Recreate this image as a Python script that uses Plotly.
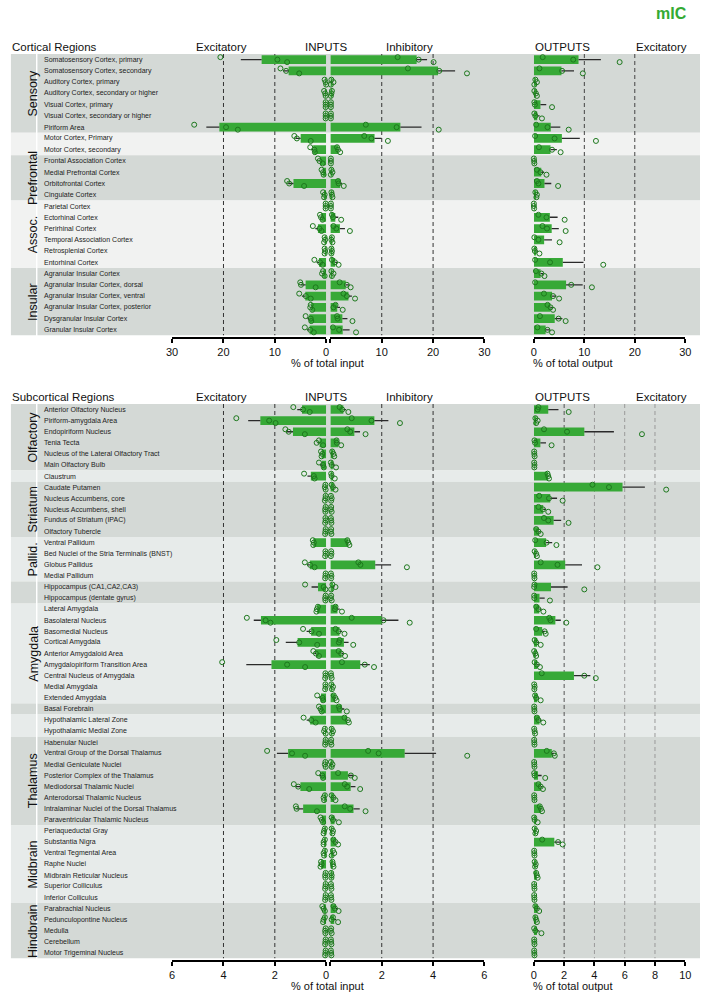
import numpy as np
import plotly.graph_objects as go

# ---------------- DATA ----------------
cortical_regions = [
    "Somatosensory Cortex, primary", "Somatosensory Cortex, secondary",
    "Auditory Cortex, primary", "Auditory Cortex, secondary or higher",
    "Visual Cortex, primary", "Visual Cortex, secondary or higher", "Piriform Area",
    "Motor Cortex, Primary", "Motor Cortex, secondary",
    "Frontal Association Cortex", "Medial Prefrontal Cortex", "Orbitofrontal Cortex",
    "Cingulate Cortex",
    "Parietal Cortex", "Ectorhinal Cortex", "Perirhinal Cortex",
    "Temporal Association Cortex", "Retrosplenial Cortex", "Entorhinal Cortex",
    "Agranular Insular Cortex", "Agranular Insular Cortex, dorsal",
    "Agranular Insular Cortex, ventral", "Agranular Insular Cortex, posterior",
    "Dysgranular Insular Cortex", "Granular Insular Cortex"]
cortical_groups = ["Sensory", "", "Prefrontal", "Assoc.", "Insular"]
cortical_group_sizes = [7, 2, 4, 6, 6]

# individual animals (% of total input / output)
cortical_exc = [
    [20.6, 9.5, 7.6], [8.9, 7.8, 5.25], [0.3, 0.1, 0.0], [0.4, 0.2, 0.1],
    [0.1, 0.1, 0.1], [0.1, 0.1, 0.1], [25.7, 19.5, 17.2], [6.2, 5.7, 3.0],
    [3.1, 2.3, 2.2], [1.6, 1.3, 0.7], [0.9, 0.6, 0.5], [7.6, 7.2, 4.3],
    [0.6, 0.3, 0.4], [0.1, 0.1, 0.1], [1.2, 1.0, 0.7], [2.6, 1.3, 0.9],
    [0.3, 0.2, 0.4], [0.3, 0.2, 0.3], [2.3, 1.2, 0.7], [0.6, 0.8, 0.3],
    [5.05, 4.9, 2.05], [5.25, 3.96, 3.0], [3.0, 3.1, 2.7], [4.0, 3.0, 2.9],
    [4.15, 3.1, 2.4]]
cortical_inh = [
    [13.1, 17.2, 20.1], [15.1, 21.2, 26.6], [0.2, 0.6, 0.1], [0.3, 0.2, 0.1],
    [0.1, 0.1, 0.1], [0.1, 0.1, 0.1], [6.9, 12.9, 21.1], [6.6, 8.0, 11.2],
    [1.3, 1.5, 1.9], [0.1, 0.1, 0.1], [0.2, 0.4, 0.1], [1.5, 1.6, 2.6],
    [0.2, 0.3, 0.4], [0.1, 0.1, 0.1], [0.3, 0.5, 2.1], [0.6, 1.15, 3.8],
    [0.3, 0.2, 0.4], [0.2, 0.3, 0.2], [0.3, 0.9, 1.6], [0.2, 0.6, 0.3],
    [1.8, 3.2, 3.95], [2.55, 3.2, 4.8], [1.0, 0.6, 2.4], [1.3, 1.4, 4.3],
    [0.5, 1.7, 5.0]]
cortical_out = [
    [1.75, 7.8, 17.0], [1.1, 5.6, 9.7], [0.3, 0.6, 0.1], [0.1, 0.4, 0.6],
    [0.1, 0.2, 3.6], [0.1, 0.3, 1.6], [0.45, 2.7, 6.9], [0.25, 4.1, 12.3],
    [1.0, 3.6, 5.3], [0.0, 0.05, 0.1], [0.6, 1.3, 2.5], [0.6, 0.9, 4.8],
    [0.3, 0.6, 0.5], [0.0, 0.0, 0.05], [0.9, 2.5, 6.1], [1.7, 2.6, 6.3],
    [0.1, 0.9, 5.1], [0.1, 0.2, 1.1], [0.25, 3.2, 13.75], [0.4, 1.5, 2.1],
    [0.25, 7.4, 11.5], [2.0, 3.8, 5.0], [2.7, 3.3, 3.8], [1.2, 4.9, 6.3],
    [0.7, 2.7, 3.6]]

sub_regions = [
    "Anterior Olfactory Nucleus", "Piriform-amygdala Area", "Endopiriform Nucleus",
    "Tenia Tecta", "Nucleus of the Lateral Olfactory Tract", "Main Olfactory Bulb",
    "Claustrum",
    "Caudate Putamen", "Nucleus Accumbens, core", "Nucleus Accumbens, shell",
    "Fundus of Striatum (IPAC)", "Olfactory Tubercle",
    "Ventral Pallidum", "Bed Nuclei of the Stria Terminalis (BNST)", "Globus Pallidus",
    "Medial Pallidum",
    "Hippocampus (CA1,CA2,CA3)", "Hippocampus (dentate gyrus)",
    "Lateral Amygdala", "Basolateral Nucleus", "Basomedial Nucleus", "Cortical Amygdala",
    "Anterior Amygdaloid Area", "Amygdalopiriform Transition Area",
    "Central Nucleus of Amygdala", "Medial Amygdala", "Extended Amygdala",
    "Basal Forebrain",
    "Hypothalamic Lateral Zone", "Hypothalamic Medial Zone",
    "Habenular Nuclei", "Ventral Group of the Dorsal Thalamus", "Medial Geniculate Nuclei",
    "Posterior Complex of the Thalamus", "Mediodorsal Thalamic Nuclei",
    "Anterodorsal Thalamic Nucleus", "Intralaminar Nuclei of the Dorsal Thalamus",
    "Paraventricular Thalamic Nucleus",
    "Periaqueductal Gray", "Substantia Nigra", "Ventral Tegmental Area", "Raphe Nuclei",
    "Midbrain Reticular Nucleus", "Superior Colliculus", "Inferior Colliculus",
    "Parabrachial Nucleus", "Pedunculopontine Nucleus", "Medulla", "Cerebellum",
    "Motor Trigeminal Nucleus"]
sub_groups = ["Olfactory", "", "Striatum", "Pallid.", "", "Amygdala", "", "",
              "Thalamus", "Midbrain", "Hindbrain"]
sub_group_sizes = [6, 1, 5, 4, 2, 9, 1, 2, 8, 7, 5]

sub_exc = [
    [1.28, 0.9, 0.64], [3.5, 2.22, 1.97], [1.59, 1.46, 0.83], [0.28, 0.37, 0.12],
    [0.2, 0.15, 0.18], [0.28, 0.12, 0.09], [0.86, 0.48, 0.45], [0.03, 0.05, 0.02],
    [0.02, 0.03, 0.05], [0.02, 0.04, 0.03], [0.03, 0.02, 0.04], [0.02, 0.03, 0.04],
    [0.52, 0.48, 0.5], [0.03, 0.02, 0.04], [0.83, 0.63, 0.45], [0.02, 0.03, 0.04],
    [0.82, 0.1, 0.03], [0.02, 0.04, 0.03], [0.32, 0.36, 0.38], [3.09, 2.36, 2.17],
    [0.9, 0.57, 0.28], [1.94, 1.05, 0.35], [0.5, 0.4, 0.28], [4.05, 1.52, 0.82],
    [0.03, 0.02, 0.04], [0.03, 0.02, 0.04], [0.35, 0.14, 0.12], [0.28, 0.22, 0.17],
    [0.88, 0.58, 0.41], [0.05, 0.08, 0.02], [0.02, 0.03, 0.04], [2.3, 1.33, 0.82],
    [0.03, 0.05, 0.02], [0.31, 0.15, 0.12], [1.26, 1.09, 0.66], [0.05, 0.1, 0.08],
    [1.18, 1.15, 0.36], [0.22, 0.17, 0.12], [0.05, 0.08, 0.1], [0.05, 0.1, 0.1],
    [0.05, 0.1, 0.08], [0.2, 0.18, 0.22], [0.02, 0.04, 0.03], [0.02, 0.03, 0.04],
    [0.02, 0.03, 0.04], [0.15, 0.1, 0.05], [0.05, 0.1, 0.12], [0.02, 0.04, 0.03],
    [0.02, 0.03, 0.04], [0.02, 0.03, 0.04]]
sub_inh = [
    [0.36, 0.46, 0.70], [0.83, 1.6, 2.71], [0.66, 0.77, 1.37], [0.24, 0.25, 0.42],
    [0.07, 0.12, 0.15], [0.02, 0.05, 0.22], [0.03, 0.05, 0.17], [0.05, 0.1, 0.2],
    [0.02, 0.05, 0.03], [0.03, 0.02, 0.05], [0.02, 0.03, 0.04], [0.03, 0.02, 0.04],
    [0.66, 0.70, 0.74], [0.03, 0.04, 0.02], [1.09, 1.17, 2.98], [0.02, 0.04, 0.03],
    [0.08, 0.2, 0.03], [0.03, 0.02, 0.05], [0.2, 0.18, 0.45], [0.83, 2.07, 3.09],
    [0.2, 0.32, 0.55], [0.36, 0.33, 0.89], [0.32, 0.42, 0.57], [0.45, 1.34, 1.7],
    [0.02, 0.03, 0.05], [0.04, 0.1, 0.06], [0.13, 0.19, 0.24], [0.33, 0.36, 0.64],
    [0.55, 0.68, 0.72], [0.05, 0.1, 0.06], [0.03, 0.02, 0.04], [1.47, 1.88, 5.33],
    [0.02, 0.08, 0.05], [0.3, 0.8, 0.95], [0.56, 0.65, 1.16], [0.05, 0.12, 0.2],
    [0.56, 0.77, 1.37], [0.05, 0.1, 0.33], [0.05, 0.1, 0.08], [0.12, 0.2, 0.3],
    [0.1, 0.15, 0.05], [0.08, 0.1, 0.12], [0.03, 0.05, 0.04], [0.02, 0.03, 0.04],
    [0.02, 0.03, 0.04], [0.12, 0.18, 0.32], [0.1, 0.05, 0.3], [0.03, 0.02, 0.05],
    [0.02, 0.03, 0.04], [0.02, 0.03, 0.04]]
sub_out = [
    [0.3, 0.25, 2.3], [0.1, 0.25, 0.15], [0.67, 2.19, 7.14], [0.04, 0.08, 1.17],
    [0.02, 0.03, 0.05], [0.02, 0.04, 0.03], [0.9, 0.95, 1.0], [3.87, 4.96, 8.74],
    [0.35, 1.0, 1.9], [0.3, 0.6, 0.95], [0.67, 0.95, 2.29], [0.15, 0.3, 0.45],
    [0.09, 0.84, 1.49], [0.05, 0.15, 0.2], [0.45, 1.56, 4.2], [0.02, 0.03, 0.04],
    [0.04, 0.02, 3.33], [0.02, 0.03, 1.06], [0.15, 0.3, 0.63], [1.02, 1.1, 2.14],
    [0.15, 0.71, 0.78], [0.05, 0.15, 0.45], [0.02, 0.1, 0.15], [0.05, 0.2, 0.4],
    [0.52, 3.33, 4.09], [0.02, 0.05, 0.03], [0.08, 0.15, 0.45], [0.02, 0.03, 0.04],
    [0.2, 0.3, 0.62], [0.02, 0.05, 0.08], [0.02, 0.03, 0.04], [0.85, 1.32, 1.38],
    [0.02, 0.03, 0.04], [0.02, 0.05, 0.75], [0.3, 0.45, 0.6], [0.02, 0.03, 0.04],
    [0.39, 0.47, 0.54], [0.02, 0.05, 0.25], [0.05, 0.15, 0.1], [0.55, 1.6, 1.9],
    [0.02, 0.03, 0.04], [0.05, 0.12, 0.08], [0.15, 0.2, 0.25], [0.02, 0.03, 0.04],
    [0.02, 0.03, 0.04], [0.1, 0.2, 0.35], [0.1, 0.15, 0.2], [0.02, 0.1, 0.5],
    [0.02, 0.03, 0.04], [0.02, 0.03, 0.04]]

top_input_ticks = [0, 10, 20, 30]
top_output_ticks = [0, 10, 20, 30]
bot_input_ticks = [0, 2, 4, 6]
bot_output_ticks = [0, 2, 4, 6, 8, 10]

# ---------------- STYLE / LAYOUT ----------------
W, H = 706, 996
FONT = "Liberation Sans, Arial, sans-serif"
BAR = "#37a937"
PT = "#1d781d"
ERR = "#2a2a2a"
DARK = "#d4d9d6"
LIGHT_TOP = "#f1f2f1"
LIGHT_BOT = "#e7ebea"
JIT = [-0.22, 0.0, 0.22]


def px(x):
    return x / W


def py(y):
    return 1 - y / H


fig = go.Figure()


def add_side(points, xa, ya):
    arr = np.array(points, dtype=float)
    n = arr.shape[0]
    mean = arr.mean(axis=1)
    sem = arr.std(axis=1, ddof=1) / np.sqrt(arr.shape[1])
    rows = np.arange(n)
    fig.add_trace(go.Bar(
        x=mean, y=rows, orientation="h", xaxis=xa, yaxis=ya, width=0.78,
        marker=dict(color=BAR, line=dict(width=0)), showlegend=False,
        hoverinfo="skip",
        error_x=dict(type="data", array=sem, arrayminus=np.zeros(n), symmetric=False,
                     color=ERR, thickness=1.3, width=0)))
    xs, ys = [], []
    for i in range(n):
        for k, v in enumerate(arr[i]):
            xs.append(v)
            ys.append(i + JIT[k % len(JIT)])
    fig.add_trace(go.Scatter(
        x=xs, y=ys, mode="markers", xaxis=xa, yaxis=ya, cliponaxis=False,
        marker=dict(symbol="circle-open", size=5, color=PT, line=dict(width=1, color=PT)),
        showlegend=False, hoverinfo="skip"))


add_side(cortical_exc, "x", "y")
add_side(cortical_inh, "x2", "y")
add_side(cortical_out, "x3", "y")
add_side(sub_exc, "x4", "y2")
add_side(sub_inh, "x5", "y2")
add_side(sub_out, "x6", "y2")

shapes = []
annotations = []


def panel_decor(regions, groups, sizes, yref, light):
    start = 0
    for gi, (g, s) in enumerate(zip(groups, sizes)):
        col = DARK if gi % 2 == 0 else light
        y0, y1 = start - 0.5, start + s - 0.5
        shapes.append(dict(type="rect", xref="paper", yref=yref, x0=px(5), x1=px(30.5),
                           y0=y0, y1=y1, fillcolor=col, line=dict(width=0), layer="below"))
        shapes.append(dict(type="rect", xref="paper", yref=yref, x0=px(32), x1=1,
                           y0=y0, y1=y1, fillcolor=col, line=dict(width=0), layer="below"))
        if g:
            annotations.append(dict(text=g, xref="paper", yref=yref, x=px(18.5),
                                    y=start + (s - 1) / 2, textangle=-90, showarrow=False,
                                    font=dict(size=12.5, color="#111", family=FONT)))
        start += s
    for i, r in enumerate(regions):
        annotations.append(dict(text=r, xref="paper", yref=yref, x=px(36.5), y=i,
                                xanchor="left", yanchor="middle", showarrow=False,
                                font=dict(size=7, color="#222", family=FONT)))


panel_decor(cortical_regions, cortical_groups, cortical_group_sizes, "y", LIGHT_TOP)
panel_decor(sub_regions, sub_groups, sub_group_sizes, "y2", LIGHT_BOT)


def vdash(xref, yref, xv, n, color):
    shapes.append(dict(type="line", xref=xref, yref=yref, x0=xv, x1=xv, y0=-0.5,
                       y1=n - 0.5, line=dict(color=color, width=1, dash="4px,3px"),
                       layer="below"))


nt, nb = len(cortical_regions), len(sub_regions)
for v in [10, 20]:
    vdash("x", "y", v, nt, "#333")
    vdash("x2", "y", v, nt, "#333")
    vdash("x3", "y", v, nt, "#444")
for v in [2, 4]:
    vdash("x4", "y2", v, nb, "#333")
    vdash("x5", "y2", v, nb, "#333")
vdash("x6", "y2", 2, nb, "#555")
for v in [4, 6, 8]:
    vdash("x6", "y2", v, nb, "#9a9a9a")


def header(y, title):
    f = dict(size=11.5, color="#111", family=FONT)
    annotations.extend([
        dict(text=title, xref="paper", yref="paper", x=px(4.5), y=py(y), xanchor="left",
             yanchor="middle", showarrow=False, font=f),
        dict(text="Excitatory", xref="paper", yref="paper", x=px(219.5), y=py(y),
             xanchor="center", yanchor="middle", showarrow=False, font=f),
        dict(text="INPUTS", xref="paper", yref="paper", x=px(326), y=py(y),
             xanchor="center", yanchor="middle", showarrow=False, font=f),
        dict(text="Inhibitory", xref="paper", yref="paper", x=px(410.5), y=py(y),
             xanchor="center", yanchor="middle", showarrow=False, font=f),
        dict(text="OUTPUTS", xref="paper", yref="paper", x=px(536), y=py(y),
             xanchor="left", yanchor="middle", showarrow=False, font=f),
        dict(text="Excitatory", xref="paper", yref="paper", x=px(694.5), y=py(y),
             xanchor="right", yanchor="middle", showarrow=False, font=f),
    ])


def axis_titles(y):
    f = dict(size=11, color="#111", family=FONT)
    annotations.extend([
        dict(text="% of total input", xref="paper", yref="paper", x=px(327), y=py(y),
             xanchor="center", yanchor="middle", showarrow=False, font=f),
        dict(text="% of total output", xref="paper", yref="paper", x=px(534.5), y=py(y),
             xanchor="left", yanchor="middle", showarrow=False, font=f),
    ])


header(47, "Cortical Regions")
header(397, "Subcortical Regions")
axis_titles(363)
axis_titles(986)
annotations.append(dict(text="<b>mIC</b>", xref="paper", yref="paper", x=px(695),
                        y=py(14), xanchor="right", yanchor="middle", showarrow=False,
                        font=dict(size=16, color="#33aa33", family=FONT)))


def xax(d0, d1, rng, ticks, pos, hide_zero=False):
    text = ["" if (hide_zero and t == 0) else str(t) for t in ticks]
    return dict(domain=[px(d0), px(d1)], range=rng, tickvals=ticks,
                ticktext=text, anchor="free", position=py(pos),
                showline=True, linecolor="black", linewidth=2, ticks="outside",
                ticklen=4, tickwidth=1.5, tickcolor="black", showgrid=False,
                zeroline=False, tickfont=dict(size=11, color="#111", family=FONT),
                fixedrange=True)


fig.update_layout(
    width=W, height=H, autosize=False,
    margin=dict(l=0, r=0, t=0, b=0),
    paper_bgcolor="white", plot_bgcolor="rgba(0,0,0,0)",
    barmode="overlay", showlegend=False,
    xaxis=xax(169, 325.7, [30, 0], top_input_ticks, 338),
    xaxis2=xax(330, 486.7, [0, 30], top_input_ticks, 338, hide_zero=True),
    xaxis3=xax(537, 691, [0, 30], top_output_ticks, 338),
    xaxis4=xax(169, 325.7, [6, 0], bot_input_ticks, 961),
    xaxis5=xax(330, 486.7, [0, 6], bot_input_ticks, 961, hide_zero=True),
    xaxis6=xax(537, 691, [0, 10], bot_output_ticks, 961),
    yaxis=dict(domain=[py(335.5), py(54)], range=[nt - 0.5, -0.5], visible=False,
               anchor="x", fixedrange=True),
    yaxis2=dict(domain=[py(958.5), py(404)], range=[nb - 0.5, -0.5], visible=False,
                anchor="x4", fixedrange=True),
    shapes=shapes, annotations=annotations,
)

POST = (
    "document.body.style.margin='0';"
    "document.body.style.overflow='hidden';"
)

fig.write_html("out.html", config={"displayModeBar": False}, post_script=POST)
